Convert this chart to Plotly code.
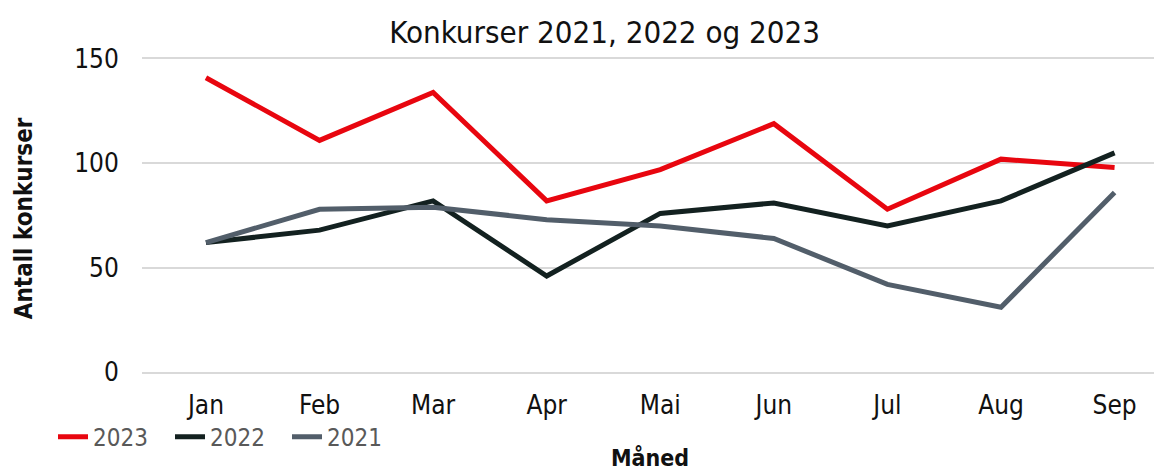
import plotly.graph_objects as go

months = ["Jan", "Feb", "Mar", "Apr", "Mai", "Jun", "Jul", "Aug", "Sep"]
v2023 = [141, 111, 134, 82, 97, 119, 78, 102, 98]
v2022 = [62, 68, 82, 46, 76, 81, 70, 82, 105]
v2021 = [62, 78, 79, 73, 70, 64, 42, 31, 86]
y_ticks = [0, 50, 100, 150]

FONT = "DejaVu Sans Condensed"

fig = go.Figure()
for name, vals, col in [("2023", v2023, "#E8060F"),
                        ("2022", v2022, "#132120"),
                        ("2021", v2021, "#525E6A")]:
    fig.add_trace(go.Scatter(x=list(range(len(months))), y=vals, name=name,
                             mode="lines", line=dict(color=col, width=5)))

# the page body adds an 8px offset, so the figure is 8px smaller and shifted
fig.update_layout(
    width=1154, height=465,
    margin=dict(l=134, r=2, t=51, b=101, autoexpand=False),
    paper_bgcolor="white", plot_bgcolor="white",
    font=dict(family=FONT, size=26, color="#111111"),
    title=dict(text="Konkurser 2021, 2022 og 2023", x=0.517, xanchor="center",
               y=0.948, yanchor="middle", font=dict(size=31, color="#111111")),
    showlegend=True,
    legend=dict(orientation="h", x=0.039, xref="container", xanchor="left",
                y=0.077, yref="container", yanchor="middle",
                font=dict(size=24, color="#595959"),
                entrywidth=72, entrywidthmode="pixels",
                tracegroupgap=0, bgcolor="rgba(0,0,0,0)"),
    annotations=[
        dict(text="<b>Måned</b>", x=0.499, xref="paper", y=-0.274, yref="paper",
             yanchor="middle", showarrow=False, font=dict(size=23, color="#111111")),
        dict(text="<b>Antall konkurser</b>", x=-0.132, xref="paper", y=0.49, yref="paper",
             textangle=-90, showarrow=False, font=dict(size=24, color="#111111")),
    ],
)
fig.update_xaxes(tickmode="array", tickvals=list(range(len(months))), ticktext=months,
                 range=[-0.563, 8.40], showgrid=False, zeroline=False,
                 showline=True, mirror=True, linecolor="#D9D9D9", linewidth=1.5,
                 ticks="outside", ticklen=9, tickcolor="rgba(0,0,0,0)")
fig.update_yaxes(range=[0, 150], tickvals=y_ticks, showgrid=True, gridcolor="#D9D9D9",
                 gridwidth=1.5, zeroline=False, showline=False,
                 ticks="outside", ticklen=17, tickcolor="rgba(0,0,0,0)")
fig.write_html("out.html")
